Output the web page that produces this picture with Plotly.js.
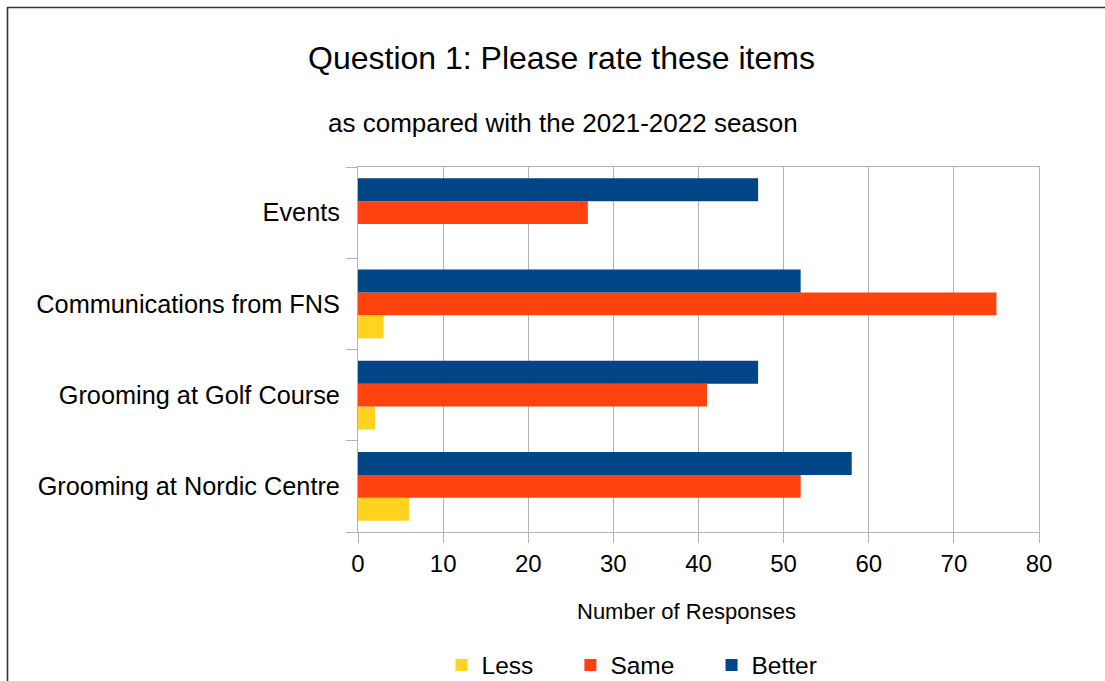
<!DOCTYPE html>
<html>
<head>
<meta charset="utf-8">
<script src="https://cdn.plot.ly/plotly-3.0.1.min.js"></script>
<style>html,body{margin:0;padding:0;background:#fff;}#chart{width:1105px;height:681px;}</style>
</head>
<body>
<div id="chart"></div>
<script>
// Categories listed bottom to top
const categories = ['Grooming at Nordic Centre', 'Grooming at Golf Course', 'Communications from FNS', 'Events'];
const lessValues = [6, 2, 3, 0];
const sameValues = [52, 41, 75, 27];
const betterValues = [58, 47, 52, 47];
const seriesNames = ['Less', 'Same', 'Better'];
const xTicks = [0, 10, 20, 30, 40, 50, 60, 70, 80];

const colors = ['#ffd320', '#ff420e', '#004586'];
const font = 'Liberation Sans, Arial, sans-serif';
const series = [lessValues, sameValues, betterValues];
const pad = '\u00a0\u00a0\u00a0\u00a0\u2009';

const traces = series.map((vals, i) => ({
  type: 'bar',
  orientation: 'h',
  name: seriesNames[i] + (i < series.length - 1 ? pad : ''),
  y: categories,
  x: vals,
  marker: {color: colors[i], line: {width: 0}},
  hoverinfo: 'x+name'
}));

const L = 358, R = 66, T = 167, B = 149, W = 1105, H = 681;
const pw = W - L - R, ph = H - T - B;
const px = v => (v - L) / pw;
const py = v => (H - B - v) / ph;

const layout = {
  width: W, height: H,
  margin: {l: L, r: R, t: T, b: B, pad: 0, autoexpand: false},
  paper_bgcolor: '#fff', plot_bgcolor: '#fff',
  font: {family: font, color: '#000'},
  barmode: 'group',
  bargap: 0.244,
  bargroupgap: 0,
  showlegend: true,
  legend: {
    orientation: 'h', x: px(632), y: py(665), xanchor: 'center', yanchor: 'middle',
    font: {family: font, size: 24.5, color: '#000'}, traceorder: 'normal'
  },
  xaxis: {
    range: [0, 80], tickvals: xTicks, ticktext: xTicks.map(String),
    showgrid: true, gridcolor: '#b3b3b3', gridwidth: 1,
    zeroline: false, showline: true, mirror: true, linecolor: '#b3b3b3', linewidth: 1,
    ticks: 'outside', ticklen: 10, tickcolor: '#b3b3b3',
    tickfont: {family: font, size: 24, color: '#000'}, fixedrange: true
  },
  yaxis: {
    type: 'category', categoryorder: 'array', categoryarray: categories,
    showgrid: false, zeroline: false, showline: true, mirror: true,
    linecolor: '#b3b3b3', linewidth: 1,
    ticks: 'outside', tickson: 'boundaries', ticklen: 11, tickcolor: '#b3b3b3',
    ticklabelstandoff: 12,
    tickfont: {family: font, size: 25.3, color: '#000'}, fixedrange: true
  },
  annotations: [
    {text: 'Question 1: Please rate these items', xref: 'paper', yref: 'paper',
     x: px(561.5), y: py(58), xanchor: 'center', yanchor: 'middle', showarrow: false,
     font: {family: font, size: 32, color: '#000'}},
    {text: 'as compared with the 2021-2022 season', xref: 'paper', yref: 'paper',
     x: px(562.5), y: py(123), xanchor: 'center', yanchor: 'middle', showarrow: false,
     font: {family: font, size: 26, color: '#000'}},
    {text: 'Number of Responses', xref: 'paper', yref: 'paper',
     x: px(686), y: py(611), xanchor: 'center', yanchor: 'middle', showarrow: false,
     font: {family: font, size: 22, color: '#000'}}
  ],
  shapes: [
    {type: 'line', xref: 'paper', yref: 'paper', x0: px(7), x1: px(1115), y0: py(7.5), y1: py(7.5),
     line: {color: '#333333', width: 1.6}},
    {type: 'line', xref: 'paper', yref: 'paper', x0: px(7.5), x1: px(7.5), y0: py(7), y1: py(700),
     line: {color: '#333333', width: 1.6}}
  ]
};

Plotly.newPlot('chart', traces, layout, {displayModeBar: false, staticPlot: true});
</script>
</body>
</html>
